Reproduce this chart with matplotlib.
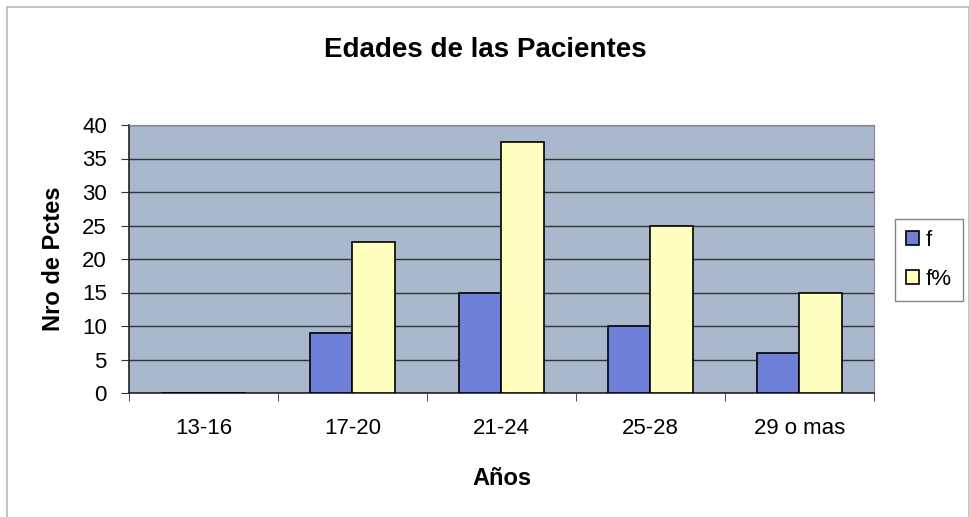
import numpy as np
import matplotlib.pyplot as plt
from matplotlib.patches import Rectangle

plt.rcParams['font.family'] = ['Liberation Sans', 'DejaVu Sans']

categories = ['13-16', '17-20', '21-24', '25-28', '29 o mas']
f = [0, 9, 15, 10, 6]
f_pct = [0, 22.5, 37.5, 25, 15]

fig = plt.figure(figsize=(9.7, 5.17), dpi=100)
ax = fig.add_axes([129 / 970, 1 - 393 / 517, (874 - 129) / 970, (393 - 125) / 517])

# border around the chart area
fig.patches.append(Rectangle((7 / 970, -0.01), 962 / 970, 1 - 7 / 517 + 0.01,
                             transform=fig.transFigure, fill=False,
                             edgecolor='#b8b8b8', linewidth=1.2))

ax.set_facecolor('#a9b8cc')
bar_width = 1 / 3.5
pos = np.arange(len(categories))
ax.bar(pos - bar_width / 2, f, width=bar_width, color='#6f80d8',
       edgecolor='black', linewidth=1.2, label='f', zorder=3)
ax.bar(pos + bar_width / 2, f_pct, width=bar_width, color='#ffffc0',
       edgecolor='black', linewidth=1.2, label='f%', zorder=3)

ax.set_xlim(-0.5, len(categories) - 0.5)
ax.set_ylim(0, 40)
ax.set_yticks(range(0, 41, 5))
ax.yaxis.grid(True, color='#333333', linewidth=1.0, zorder=1)
ax.tick_params(axis='y', labelsize=16, length=6, direction='out', color='#333333', pad=10)

ax.set_xticks(pos)
ax.set_xticklabels(categories, fontsize=16)
ax.set_xticks(np.arange(-0.5, len(categories)), minor=True)
ax.tick_params(axis='x', which='major', length=0, pad=18)
ax.tick_params(axis='x', which='minor', length=6, color='#333333')

for side in ['top', 'right']:
    ax.spines[side].set_color('#888888')
ax.spines['left'].set_color('#222222')
ax.spines['bottom'].set_color('#222222')
ax.spines['left'].set_linewidth(1.2)
ax.spines['bottom'].set_linewidth(1.2)

ax.set_ylabel('Nro de Pctes', fontsize=17, fontweight='bold', labelpad=12)
ax.set_xlabel('Años', fontsize=17, fontweight='bold', labelpad=20)
fig.text(0.5, 1 - 50 / 517, 'Edades de las Pacientes', ha='center', va='center',
         fontsize=20, fontweight='bold')

leg = fig.legend(loc='center left', bbox_to_anchor=(895 / 970, 1 - 260 / 517),
                 fontsize=16, frameon=True, fancybox=False, handlelength=0.6,
                 handleheight=0.6, handletextpad=0.3, borderpad=0.5, labelspacing=0.8,
                 borderaxespad=0)
leg.get_frame().set_edgecolor('#666666')
leg.get_frame().set_linewidth(1.0)

fig.savefig('out.png', dpi=100)
